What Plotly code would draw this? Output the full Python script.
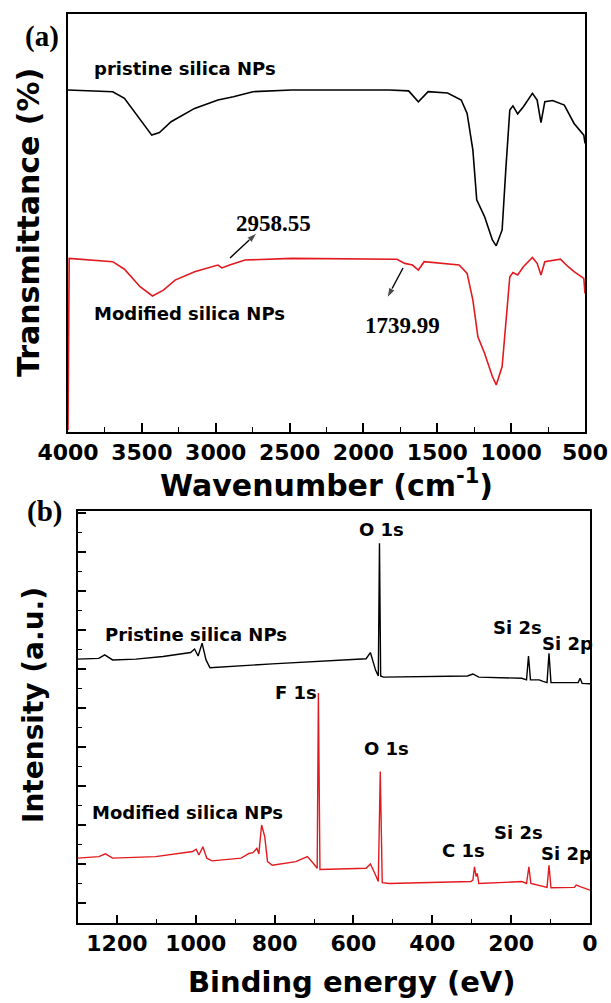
import plotly.graph_objects as go

W, H = 611, 1003

# ---------------- FTIR data (panel a) ----------------
ftir_wn_pristine = [4000, 3697, 3618, 3512, 3433, 3381, 3302, 3143, 2985, 2880, 2748, 2485,
                    1826, 1694, 1628, 1562, 1430, 1338, 1298, 1259, 1233, 1180, 1127, 1101,
                    1061, 1035, 1009, 988, 956, 917, 856, 824, 798, 772, 719, 640, 574, 508, 500]
ftir_t_pristine = [81.8, 81.4, 79.8, 74.6, 71.0, 71.6, 74.2, 77.4, 79.4, 80.2, 81.4, 81.8,
                   81.8, 81.6, 79.0, 81.4, 81.1, 79.4, 76.2, 67.4, 55.5, 51.5, 45.9, 44.5,
                   48.3, 63.4, 77.0, 78.0, 76.1, 77.8, 81.0, 79.4, 74.0, 79.0, 79.3, 78.2, 73.8, 71.0, 69.0]

ftir_wn_modified = [4000, 3992, 3697, 3618, 3512, 3428, 3354, 3275, 3143, 2985, 2958, 2906,
                    2801, 2485, 1773, 1720, 1668, 1628, 1589, 1352, 1298, 1259, 1225, 1180,
                    1127, 1101, 1061, 1035, 1009, 988, 956, 917, 856, 824, 798, 772, 667,
                    614, 574, 508, 500]
ftir_t_modified = [0.4, 41.5, 40.7, 38.9, 34.7, 32.5, 33.9, 36.3, 38.3, 39.9, 39.2, 39.9,
                   41.1, 41.5, 41.3, 40.3, 39.9, 38.7, 40.7, 39.9, 37.9, 31.5, 22.7, 18.8,
                   13.2, 11.2, 15.6, 27.5, 37.1, 38.1, 37.5, 39.5, 41.7, 40.3, 37.5, 40.7, 41.3,
                   39.5, 38.3, 36.7, 33.1]

ftir_ticks = [4000, 3500, 3000, 2500, 2000, 1500, 1000, 500]

# ---------------- XPS data (panel b) ----------------
xps_be_pristine = [1300, 1246, 1231, 1211, 1152, 1083, 1013, 1003, 994, 984, 974, 964, 806,
                   608, 568, 557, 544, 537, 534, 531, 524, 311, 297, 282, 173, 161, 156, 151,
                   129, 119, 109, 104, 99, 30, 25, 20, 0]
xps_i_pristine = [6.25, 6.27, 6.36, 6.23, 6.25, 6.32, 6.42, 6.51, 6.33, 6.66, 6.23, 6.03, 6.13,
                  6.23, 6.26, 6.42, 5.97, 5.82, 9.22, 5.82, 5.79, 5.82, 5.87, 5.79, 5.76, 5.72, 6.33, 5.72,
                  5.72, 5.68, 5.65, 6.40, 5.65, 5.65, 5.76, 5.63, 5.62]

xps_be_modified = [1300, 1246, 1229, 1211, 1102, 1008, 999, 992, 982, 972, 959, 885, 865, 855,
                   845, 840, 833, 825, 818, 806, 746, 727, 717, 702, 692, 689, 685, 568, 557,
                   544, 537, 532, 527, 509, 302, 297, 293, 289, 286, 282, 173, 161, 155, 150,
                   124, 109, 104, 99, 40, 35, 25, 0]
xps_i_modified = [1.15, 1.19, 1.26, 1.15, 1.19, 1.32, 1.38, 1.23, 1.44, 1.15, 1.08, 1.15, 1.27, 1.29,
                  1.40, 1.26, 2.00, 1.70, 1.06, 0.97, 1.06, 1.15, 1.19, 1.02, 0.89, 5.38, 0.86, 0.89, 1.00,
                  0.72, 0.55, 3.37, 0.52, 0.50, 0.55, 0.59, 0.93, 0.68, 0.76, 0.50, 0.55, 0.50, 0.93, 0.50,
                  0.44, 0.40, 0.97, 0.39, 0.40, 0.46, 0.42, 0.33]

xps_ticks = [1200, 1000, 800, 600, 400, 200, 0]

BLACK = "#000000"
RED = "#e2191e"
SANS = "DejaVu Sans"
SERIF = "Liberation Serif"


def px(x):
    return x / W


def py(y):
    return 1 - y / H


fig = go.Figure()
fig.add_trace(go.Scatter(x=ftir_wn_pristine, y=ftir_t_pristine, mode="lines",
                         line=dict(color=BLACK, width=1.6), xaxis="x", yaxis="y",
                         showlegend=False, hoverinfo="skip"))
fig.add_trace(go.Scatter(x=ftir_wn_modified, y=ftir_t_modified, mode="lines",
                         line=dict(color=RED, width=1.6), xaxis="x", yaxis="y",
                         showlegend=False, hoverinfo="skip"))
fig.add_trace(go.Scatter(x=xps_be_pristine, y=xps_i_pristine, mode="lines",
                         line=dict(color=BLACK, width=1.4), xaxis="x2", yaxis="y2",
                         showlegend=False, hoverinfo="skip"))
fig.add_trace(go.Scatter(x=xps_be_modified, y=xps_i_modified, mode="lines",
                         line=dict(color=RED, width=1.4), xaxis="x2", yaxis="y2",
                         showlegend=False, hoverinfo="skip"))

# annotation arrows in panel a (tail -> head, data coordinates)
for (tx, ty, hx, hy) in [(2903, 41.6, 2720, 47.6), (1732, 39.2, 1840, 32.0)]:
    fig.add_trace(go.Scatter(x=[tx, hx], y=[ty, hy], mode="lines+markers",
                             line=dict(color=BLACK, width=1.4),
                             marker=dict(symbol="arrow", angleref="previous", size=[0, 11],
                                         color=BLACK),
                             xaxis="x", yaxis="y", showlegend=False, hoverinfo="skip"))

tickfont = dict(family=SANS, size=22, color=BLACK, weight="bold")

fig.update_layout(
    width=W, height=H,
    margin=dict(l=0, r=0, t=0, b=0, autoexpand=False),
    paper_bgcolor="white", plot_bgcolor="white",
    showlegend=False,
    xaxis=dict(domain=[px(68), px(585)], anchor="y", range=[4000, 500], automargin=False,
               tickmode="array", tickvals=ftir_ticks, ticktext=[str(v) for v in ftir_ticks],
               ticks="inside", ticklen=9, tickwidth=1.6, tickcolor=BLACK,
               minor=dict(dtick=250, tick0=0, ticks="inside", ticklen=5, tickwidth=1.4, tickcolor=BLACK),
               showline=True, linewidth=2, linecolor=BLACK, mirror=True,
               showgrid=False, zeroline=False, tickfont=tickfont, layer="below traces"),
    yaxis=dict(domain=[py(431.7), py(14)], anchor="x", range=[0, 100], automargin=False,
               showticklabels=False, ticks="", showline=True, linewidth=2, linecolor=BLACK,
               mirror=True, showgrid=False, zeroline=False, layer="below traces"),
    xaxis2=dict(domain=[px(77.5), px(590)], anchor="y2", range=[1300, 0], automargin=False,
                tickmode="array", tickvals=xps_ticks, ticktext=[str(v) for v in xps_ticks],
                ticks="inside", ticklen=8, tickwidth=1.6, tickcolor=BLACK,
                minor=dict(dtick=100, tick0=0, ticks="inside", ticklen=4, tickwidth=1.4, tickcolor=BLACK),
                showline=True, linewidth=2, linecolor=BLACK, mirror=True,
                showgrid=False, zeroline=False, tickfont=tickfont),
    yaxis2=dict(domain=[py(922.7), py(510.5)], anchor="x2", range=[-0.504, 10.06], automargin=False,
                dtick=1, tick0=0, showticklabels=False,
                ticks="inside", ticklen=8, tickwidth=1.6, tickcolor=BLACK,
                minor=dict(dtick=0.5, tick0=0, ticks="inside", ticklen=4, tickwidth=1.4, tickcolor=BLACK),
                showline=True, linewidth=2, linecolor=BLACK, mirror=True,
                showgrid=False, zeroline=False),
)

ann = []


def label(text, x, y, size, family=SANS, color=BLACK, angle=0):
    ann.append(dict(text=text, x=px(x), y=py(y), xref="paper", yref="paper",
                    xanchor="center", yanchor="middle", showarrow=False, textangle=angle,
                    font=dict(family=family, size=size, color=color, weight="bold")))


# panel letters
label("(a)", 42, 37, 29, family=SERIF)
label("(b)", 44, 512, 29, family=SERIF)

# axis titles
label("Transmittance (%)", 28, 223, 30, angle=-90)
label("Wavenumber (cm<sup>-1</sup>)", 326, 483, 30)
label("Intensity (a.u.)", 33, 705, 28, angle=-90)
label("Binding energy (eV)", 352, 982, 29)

# panel a texts
label("pristine silica NPs", 185, 68, 18)
label("Modified silica NPs", 189, 313, 18)
label("2958.55", 273, 223, 23, family=SERIF)
label("1739.99", 403, 325, 23, family=SERIF)

# panel b texts
label("O 1s", 381, 529, 18)
label("Si 2s", 517, 627, 18)
label("Si 2p", 567, 643, 18)
label("Pristine silica NPs", 196, 634, 18)
label("F 1s", 296, 692, 18)
label("O 1s", 386, 748, 18)
label("Modified silica NPs", 187, 812, 18)
label("C 1s", 463, 850, 18)
label("Si 2s", 518, 832, 18)
label("Si 2p", 566, 853, 18)

fig.update_layout(annotations=ann)
fig.write_html("out.html", config={"displayModeBar": False},
               post_script="document.body.style.margin='0px';document.body.style.overflow='hidden';")
